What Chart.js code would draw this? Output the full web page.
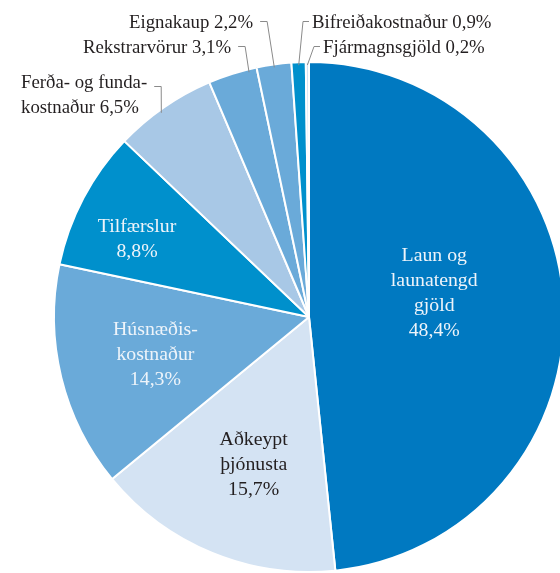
<!DOCTYPE html>
<html>
<head>
<meta charset="utf-8">
<script src="https://cdn.jsdelivr.net/npm/chart.js@4"></script>
<style>
    html, body { margin: 0; padding: 0; background: #fff; overflow: hidden; width: 560px; height: 573px; }
    #contenedor { position: absolute; left: 0; top: 0; width: 620px; height: 640px; }
</style>
</head>
<body>
<div id="contenedor"><canvas id="grafico" width="620" height="640"></canvas></div>
<script>
// Datos del gráfico
const categorias = [
    ['Laun og', 'launatengd', 'gjöld'],
    ['Aðkeypt', 'þjónusta'],
    ['Húsnæðis-', 'kostnaður'],
    ['Tilfærslur'],
    ['Ferða- og funda-', 'kostnaður'],
    ['Rekstrarvörur'],
    ['Eignakaup'],
    ['Bifreiðakostnaður'],
    ['Fjármagnsgjöld']
];
const valores = [48.4, 15.7, 14.3, 8.8, 6.5, 3.1, 2.2, 0.9, 0.2];
const colores = ['#0079c1', '#d4e3f3', '#6aaad9', '#0090cc', '#a8c8e6', '#6aaad9', '#6aaad9', '#0090cc', '#d4e3f3'];

const fuente = '"Liberation Serif", "DejaVu Serif", serif';

function formato(v) {
    return v.toFixed(1).replace('.', ',') + '%';
}

// Etiquetas dentro de las porciones: fracción del ángulo y del radio
const internas = {
    0: { f: 0.455, r: 0.50, color: '#eef4fa' },
    1: { f: 0.468, r: 0.62, color: '#231f20' },
    2: { f: 0.501, r: 0.62, color: '#eef4fa' },
    3: { f: 0.39, r: 0.74, color: '#eef4fa' }
};

// Etiquetas fuera del círculo con línea guía
const externas = {
    4: { x: 21, y: 83, lado: 'izq', f: 0.45 },
    5: { x: 83, y: 48, lado: 'izq', f: 0.83 },
    6: { x: 129, y: 23, lado: 'izq', f: 0.5 },
    7: { x: 312, y: 23, lado: 'der', f: 0.5 },
    8: { x: 323, y: 48, lado: 'der', f: 0.5 }
};

const etiquetas = {
    id: 'etiquetas',
    afterDatasetsDraw(chart) {
        const ctx = chart.ctx;
        const meta = chart.getDatasetMeta(0);
        ctx.save();
        meta.data.forEach((arco, i) => {
            const p = arco.getProps(['x', 'y', 'startAngle', 'endAngle', 'outerRadius'], true);
            const lineas = categorias[i];
            if (internas[i]) {
                const c = internas[i];
                const ang = p.startAngle + (p.endAngle - p.startAngle) * c.f;
                const cx = p.x + Math.cos(ang) * p.outerRadius * c.r;
                const cy = p.y + Math.sin(ang) * p.outerRadius * c.r;
                const todas = lineas.concat([formato(valores[i])]);
                const alto = 25;
                ctx.font = '19.8px ' + fuente;
                ctx.fillStyle = c.color;
                ctx.textAlign = 'center';
                ctx.textBaseline = 'middle';
                todas.forEach((t, k) => {
                    ctx.fillText(t, cx, cy + (k - (todas.length - 1) / 2) * alto);
                });
            } else if (externas[i]) {
                const c = externas[i];
                ctx.font = '18.8px ' + fuente;
                ctx.fillStyle = '#231f20';
                ctx.textAlign = 'left';
                ctx.textBaseline = 'middle';
                let texto;
                if (lineas.length > 1) {
                    texto = [lineas[0], lineas[1] + ' ' + formato(valores[i])];
                } else {
                    texto = [lineas[0] + ' ' + formato(valores[i])];
                }
                let ancho = 0;
                texto.forEach((t, k) => {
                    ctx.fillText(t, c.x, c.y + k * 25);
                    ancho = Math.max(ancho, ctx.measureText(t).width);
                });
                // Línea guía
                const ang = p.startAngle + (p.endAngle - p.startAngle) * c.f;
                const fx = p.x + Math.cos(ang) * (p.outerRadius - 3);
                const fy = p.y + Math.sin(ang) * (p.outerRadius - 3);
                const hy = c.y - 1.5;
                ctx.strokeStyle = '#8a8a8a';
                ctx.lineWidth = 1;
                ctx.beginPath();
                if (c.lado === 'izq') {
                    const x1 = c.x + ancho + 7;
                    ctx.moveTo(x1, hy + 5 * (lineas.length > 1 ? 1 : 0));
                    ctx.lineTo(x1 + 7, hy + 5 * (lineas.length > 1 ? 1 : 0));
                    ctx.lineTo(fx, fy);
                } else {
                    const x1 = c.x - 3;
                    ctx.moveTo(x1, hy);
                    ctx.lineTo(x1 - 6, hy);
                    ctx.lineTo(fx, fy);
                }
                ctx.stroke();
            }
        });
        ctx.restore();
    }
};

const ctx = document.getElementById('grafico').getContext('2d');
new Chart(ctx, {
    type: 'pie',
    data: {
        labels: categorias.map(c => c.join(' ')),
        datasets: [{
            data: valores,
            backgroundColor: colores,
            borderColor: '#ffffff',
            borderWidth: 2
        }]
    },
    options: {
        responsive: false,
        animation: false,
        layout: { padding: { left: 53, top: 61, right: 55, bottom: 67 } },
        plugins: {
            legend: { display: false },
            tooltip: { enabled: false }
        }
    },
    plugins: [etiquetas]
});
</script>
</body>
</html>
